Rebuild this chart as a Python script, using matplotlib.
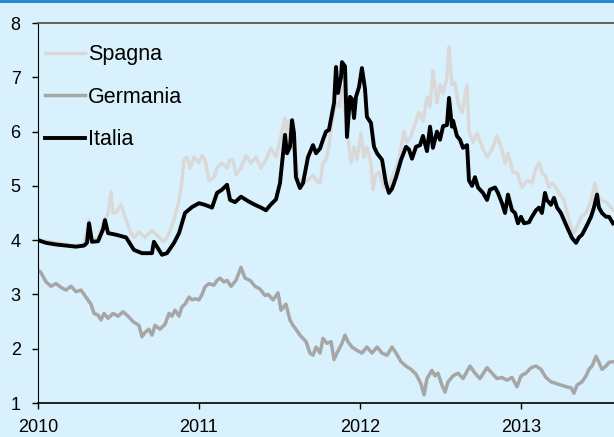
import matplotlib
matplotlib.use("Agg")
import matplotlib.pyplot as plt
from matplotlib.lines import Line2D
import numpy as np

# ---- data (decimal years since 2010, yield %) ----
italia_t = [0.000, 0.050, 0.112, 0.174, 0.236, 0.286, 0.304, 0.317, 0.335, 0.373, 0.404, 0.416, 0.435, 0.484,
            0.547, 0.596, 0.646, 0.708, 0.720, 0.770, 0.801, 0.845, 0.876, 0.913, 0.957, 1.000, 1.037, 1.081,
            1.112, 1.143, 1.174, 1.193, 1.224, 1.261, 1.304, 1.348, 1.385, 1.416, 1.447, 1.478, 1.503, 1.522,
            1.534, 1.547, 1.565, 1.578, 1.590, 1.602, 1.627, 1.646, 1.677, 1.708, 1.727, 1.752, 1.770, 1.789,
            1.807, 1.839, 1.851, 1.863, 1.882, 1.888, 1.907, 1.919, 1.938, 1.950, 1.963, 1.975, 1.994, 2.012,
            2.031, 2.043, 2.068, 2.087, 2.106, 2.137, 2.161, 2.180, 2.199, 2.224, 2.255, 2.286, 2.304, 2.323,
            2.348, 2.373, 2.391, 2.416, 2.435, 2.453, 2.478, 2.497, 2.516, 2.540, 2.553, 2.571, 2.578, 2.602,
            2.621, 2.640, 2.665, 2.677, 2.696, 2.714, 2.733, 2.764, 2.789, 2.807, 2.839, 2.857, 2.882, 2.901,
            2.919, 2.944, 2.963, 2.981, 3.000, 3.019, 3.050, 3.068, 3.093, 3.112, 3.130, 3.149, 3.161, 3.186,
            3.205, 3.224, 3.248, 3.267, 3.286, 3.317, 3.342, 3.360, 3.379, 3.404, 3.435, 3.453, 3.472, 3.484,
            3.503, 3.528, 3.547, 3.571]
italia_v = [4.00, 3.95, 3.92, 3.90, 3.88, 3.90, 3.95, 4.31, 3.97, 3.98, 4.20, 4.37, 4.13, 4.10,
            4.05, 3.82, 3.76, 3.76, 3.97, 3.73, 3.76, 3.95, 4.13, 4.50, 4.61, 4.68, 4.65, 4.60,
            4.87, 4.93, 5.02, 4.74, 4.70, 4.80, 4.72, 4.65, 4.60, 4.55, 4.66, 4.75, 5.05, 5.60,
            5.94, 5.60, 5.72, 6.21, 5.97, 5.16, 4.96, 5.05, 5.53, 5.75, 5.60, 5.69, 5.85, 6.00,
            6.03, 6.53, 7.19, 6.71, 7.00, 7.28, 7.20, 5.90, 6.64, 6.60, 6.25, 6.64, 6.82, 7.17,
            6.79, 6.27, 6.16, 5.72, 5.60, 5.48, 5.05, 4.87, 4.95, 5.16, 5.48, 5.72, 5.67, 5.50,
            5.72, 5.75, 5.92, 5.64, 6.09, 5.70, 6.00, 5.85, 6.10, 6.12, 6.62, 6.09, 6.20, 5.92,
            5.85, 5.70, 5.75, 5.10, 5.00, 5.16, 4.97, 4.87, 4.74, 4.93, 4.97, 4.87, 4.68, 4.50,
            4.84, 4.55, 4.50, 4.31, 4.43, 4.31, 4.33, 4.43, 4.55, 4.60, 4.50, 4.87, 4.74, 4.65,
            4.78, 4.60, 4.50, 4.37, 4.24, 4.04, 3.95, 4.05, 4.10, 4.24, 4.43, 4.60, 4.84, 4.60,
            4.50, 4.43, 4.43, 4.31]

spagna_t = [0.000, 0.050, 0.112, 0.174, 0.236, 0.286, 0.317, 0.335, 0.373, 0.404, 0.435, 0.453, 0.466, 0.484,
            0.516, 0.547, 0.578, 0.596, 0.627, 0.665, 0.708, 0.752, 0.783, 0.814, 0.845, 0.876, 0.894, 0.907,
            0.925, 0.944, 0.969, 1.000, 1.019, 1.037, 1.062, 1.093, 1.112, 1.143, 1.174, 1.193, 1.211, 1.230,
            1.261, 1.292, 1.323, 1.354, 1.385, 1.416, 1.447, 1.478, 1.509, 1.534, 1.547, 1.559, 1.571, 1.596,
            1.615, 1.646, 1.677, 1.708, 1.727, 1.752, 1.770, 1.789, 1.807, 1.826, 1.851, 1.870, 1.888, 1.913,
            1.925, 1.944, 1.963, 1.981, 2.006, 2.025, 2.043, 2.068, 2.081, 2.099, 2.118, 2.149, 2.180, 2.211,
            2.242, 2.273, 2.292, 2.317, 2.335, 2.366, 2.391, 2.416, 2.435, 2.453, 2.478, 2.497, 2.516, 2.540,
            2.553, 2.571, 2.590, 2.609, 2.634, 2.665, 2.677, 2.702, 2.727, 2.758, 2.789, 2.820, 2.851, 2.882,
            2.901, 2.919, 2.950, 2.975, 3.006, 3.037, 3.068, 3.093, 3.112, 3.130, 3.155, 3.174, 3.193, 3.217,
            3.236, 3.267, 3.286, 3.311, 3.329, 3.348, 3.373, 3.404, 3.435, 3.460, 3.472, 3.497, 3.528, 3.559,
            3.571]
spagna_v = [4.00, 3.98, 3.95, 3.92, 3.90, 3.92, 4.37, 4.00, 4.05, 4.30, 4.50, 4.89, 4.50, 4.50,
            4.65, 4.37, 4.13, 4.05, 4.15, 4.05, 4.18, 4.05, 3.97, 4.13, 4.37, 4.74, 5.10, 5.48,
            5.53, 5.33, 5.53, 5.42, 5.56, 5.48, 5.10, 5.16, 5.33, 5.42, 5.33, 5.48, 5.48, 5.20,
            5.33, 5.56, 5.42, 5.53, 5.33, 5.48, 5.70, 5.53, 5.92, 6.25, 5.92, 6.20, 5.85, 5.60,
            5.16, 5.05, 5.10, 5.20, 5.10, 5.05, 5.42, 5.48, 5.72, 6.21, 6.53, 6.46, 6.82, 6.25,
            5.90, 5.42, 5.72, 5.48, 5.97, 5.53, 5.72, 5.42, 4.93, 5.20, 5.25, 4.97, 5.00, 5.25,
            5.48, 6.00, 5.80, 5.92, 6.09, 6.35, 6.20, 6.64, 6.46, 7.13, 6.53, 6.86, 6.71, 7.00,
            7.56, 6.86, 6.90, 6.53, 6.35, 6.86, 6.00, 5.80, 5.97, 5.72, 5.53, 5.67, 5.92, 5.67,
            5.42, 5.60, 5.25, 5.25, 4.97, 5.10, 5.05, 5.33, 5.42, 5.25, 5.16, 4.97, 5.05, 4.97,
            4.87, 4.74, 4.50, 4.24, 4.13, 4.24, 4.43, 4.50, 4.74, 5.05, 4.87, 4.74, 4.70, 4.60,
            4.55]

germania_t = [0.000, 0.019, 0.050, 0.081, 0.112, 0.143, 0.174, 0.205, 0.236, 0.267, 0.298, 0.329, 0.348, 0.373,
              0.391, 0.410, 0.435, 0.466, 0.497, 0.528, 0.559, 0.590, 0.627, 0.646, 0.665, 0.689, 0.708, 0.727,
              0.758, 0.789, 0.814, 0.832, 0.851, 0.876, 0.894, 0.913, 0.938, 0.957, 0.975, 1.000, 1.019, 1.037,
              1.062, 1.093, 1.112, 1.130, 1.155, 1.174, 1.199, 1.230, 1.261, 1.286, 1.317, 1.348, 1.379, 1.410,
              1.429, 1.460, 1.491, 1.509, 1.540, 1.565, 1.584, 1.602, 1.627, 1.646, 1.665, 1.689, 1.708, 1.727,
              1.752, 1.770, 1.795, 1.820, 1.839, 1.857, 1.888, 1.907, 1.925, 1.950, 1.981, 2.012, 2.043, 2.075,
              2.106, 2.137, 2.168, 2.199, 2.224, 2.255, 2.286, 2.317, 2.348, 2.379, 2.398, 2.416, 2.447, 2.466,
              2.484, 2.509, 2.528, 2.547, 2.578, 2.609, 2.640, 2.683, 2.714, 2.745, 2.789, 2.820, 2.851, 2.882,
              2.913, 2.944, 2.975, 3.000, 3.031, 3.062, 3.093, 3.124, 3.155, 3.186, 3.217, 3.248, 3.280, 3.311,
              3.329, 3.348, 3.379, 3.404, 3.422, 3.441, 3.466, 3.484, 3.503, 3.528, 3.547, 3.571]
germania_v = [3.45, 3.40, 3.23, 3.15, 3.20, 3.13, 3.08, 3.15, 3.05, 3.08, 2.95, 2.82, 2.65, 2.62,
              2.53, 2.65, 2.56, 2.65, 2.60, 2.68, 2.60, 2.50, 2.43, 2.22, 2.30, 2.36, 2.25, 2.43,
              2.36, 2.45, 2.65, 2.60, 2.71, 2.60, 2.77, 2.82, 2.95, 2.90, 2.92, 2.90, 3.00, 3.14,
              3.20, 3.17, 3.26, 3.30, 3.23, 3.26, 3.15, 3.26, 3.50, 3.30, 3.26, 3.15, 3.10, 2.98,
              3.00, 2.90, 3.03, 2.71, 2.82, 2.53, 2.43, 2.36, 2.25, 2.19, 2.13, 1.92, 1.88, 2.03,
              1.92, 2.19, 2.10, 2.13, 1.80, 1.92, 2.10, 2.25, 2.13, 2.03, 1.97, 1.92, 2.03, 1.92,
              2.03, 1.92, 1.88, 2.03, 1.92, 1.76, 1.68, 1.62, 1.53, 1.35, 1.15, 1.45, 1.60, 1.50,
              1.55, 1.33, 1.20, 1.39, 1.50, 1.55, 1.45, 1.68, 1.55, 1.45, 1.65, 1.55, 1.45, 1.47,
              1.42, 1.47, 1.30, 1.50, 1.55, 1.65, 1.68, 1.62, 1.47, 1.39, 1.36, 1.33, 1.30, 1.28,
              1.18, 1.33, 1.39, 1.50, 1.62, 1.68, 1.86, 1.75, 1.62, 1.68, 1.75, 1.76]

series_names = ["Spagna", "Germania", "Italia"]
series_colors = ["#d9d9d9", "#a6a6a6", "#000000"]
year_ticks = [2010, 2011, 2012, 2013]
y_ticks = [1, 2, 3, 4, 5, 6, 7, 8]
base_year = 2010

BG = "#d9f1fc"
plt.rcParams['font.family'] = ['Liberation Sans', 'DejaVu Sans']

fig = plt.figure(figsize=(6.14, 4.37), dpi=100, facecolor=BG)
ax = fig.add_axes([38/614, 1-403/437, 1-38/614, 380/437])
ax.set_facecolor(BG)

data = [(spagna_t, spagna_v), (germania_t, germania_v), (italia_t, italia_v)]
lws = [2.5, 2.5, 2.8]
for (t, v), name, col, lw in zip(data, series_names, series_colors, lws):
    ax.plot(base_year + np.array(t), v, color=col, lw=lw, label=name, solid_joinstyle='round')

ax.set_ylim(1, 8)
ax.set_xlim(2010, 2010 + 576/161)
ax.set_yticks(y_ticks)
ax.set_xticks(year_ticks)
ax.set_xticklabels([str(y) for y in year_ticks])
ax.tick_params(axis='both', direction='out', length=4.5, width=1, colors='black', labelsize=13)
ax.tick_params(axis='y', pad=8)
ax.tick_params(axis='x', pad=7.2)

ax.spines['right'].set_visible(False)
ax.spines['top'].set_color('#555555')
ax.spines['top'].set_linewidth(1.3)
ax.spines['left'].set_color('black')
ax.spines['bottom'].set_color('black')
ax.spines['bottom'].set_linewidth(1.2)

leg = ax.legend(loc='upper left', bbox_to_anchor=(0.012, 0.944), frameon=False,
                fontsize=15.5, handlelength=1.85, handletextpad=0.15, labelspacing=1.0,
                borderpad=0, borderaxespad=0)

# blue border line at top of figure
fig.add_artist(Line2D([0, 1], [1 - 1.2/437, 1 - 1.2/437], transform=fig.transFigure,
                      color='#2c88cc', lw=2.2))

fig.savefig("out.png", dpi=100, facecolor=BG)
